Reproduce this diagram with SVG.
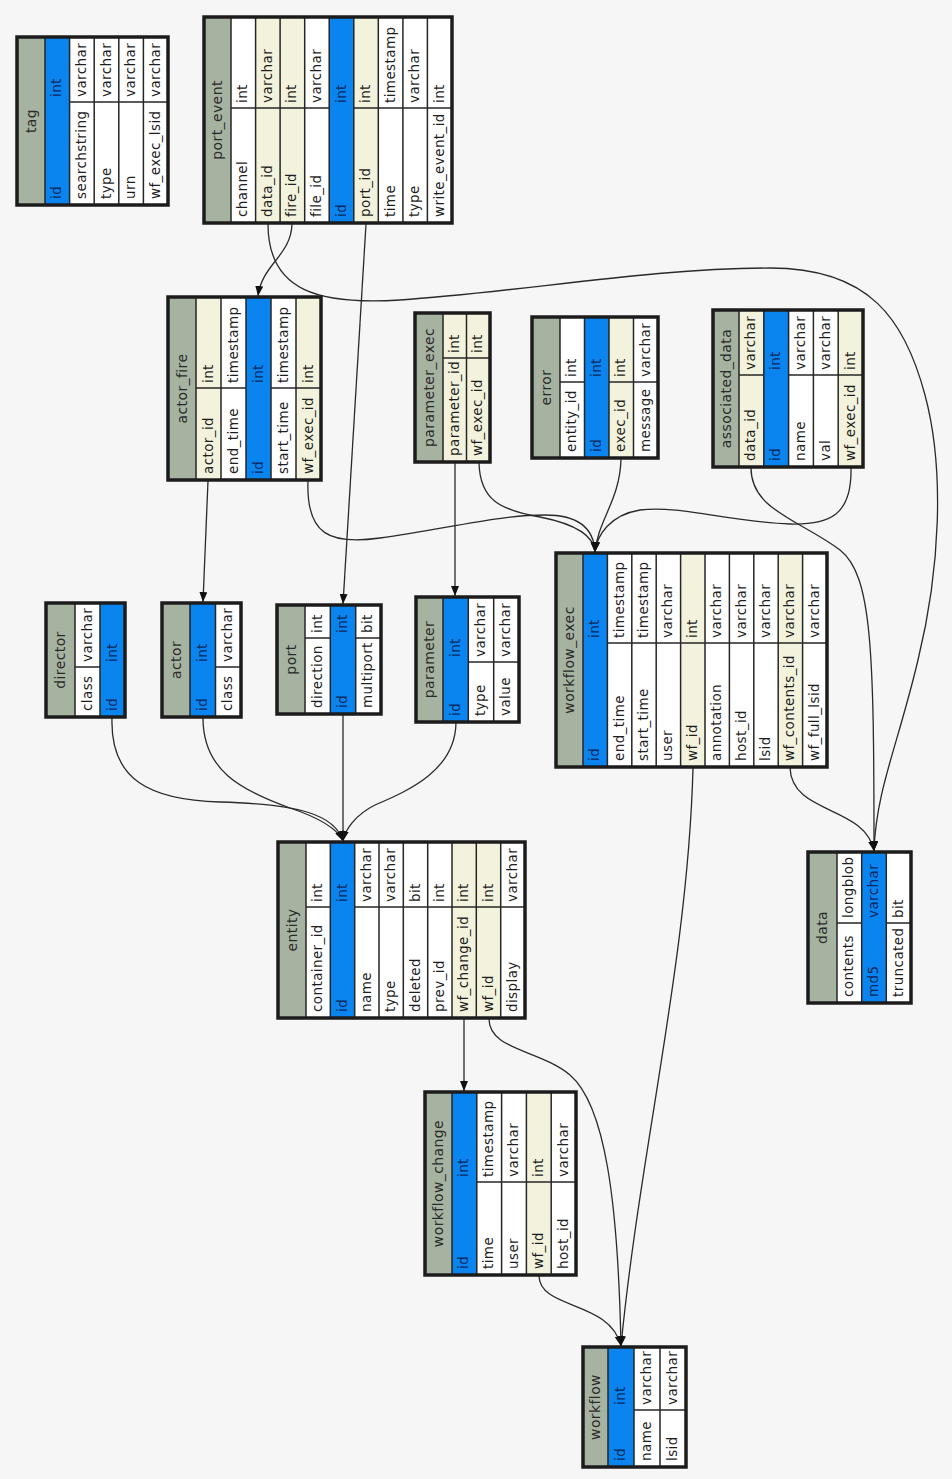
<svg xmlns="http://www.w3.org/2000/svg" width="952" height="1479" viewBox="0 0 952 1479">
<style>
  .bg{fill:#f6f6f6}
  .hdr{fill:#a7b3a1}
  .nf{fill:#ffffff}
  .fk{fill:#f3f3dd}
  .pk{fill:#0a84ee}
  .dv{stroke:#262626;stroke-width:1.5}
  .sep{stroke:#262626;stroke-width:1.5;fill:none}
  .frame{fill:none;stroke:#1c1c1c;stroke-width:3.5}
  text{font-family:"DejaVu Sans","Liberation Sans",sans-serif;font-size:13.5px;fill:#1e1e1e;letter-spacing:0.4px}
  text.p{fill:#0a2a5e}
  text.ttl{font-size:14px;fill:#2a2a2a;text-anchor:middle}
  .cn{fill:none;stroke:#2a2a2a;stroke-width:1.3;marker-end:url(#arr)}
</style>
<defs>
  <marker id="arr" markerUnits="userSpaceOnUse" markerWidth="10" markerHeight="8" refX="10" refY="4" orient="auto">
    <path d="M0,0 L10,4 L0,8 z" fill="#111"/>
  </marker>
</defs>
<rect class="bg" x="0" y="0" width="952" height="1479"/>

<!-- relationships -->
<g id="connectors">
  <path class="cn" d="M292,224 C291,256 262,264 258,296"/>
  <path class="cn" d="M268,224 C268,292 320,305 400,300 C520,292 650,268 770,268 C870,268 905,320 925,395 C945,470 940,570 918,660 C898,745 876,790 874,851"/>
  <path class="cn" d="M366,224 L343,604"/>
  <path class="cn" d="M208,481 L203,602"/>
  <path class="cn" d="M308,481 C306,535 330,545 380,538 C450,528 500,515 545,515 C580,515 594,530 595,552"/>
  <path class="cn" d="M455,463 L455,596"/>
  <path class="cn" d="M479,463 C480,500 500,510 540,517 C575,524 594,535 595,552"/>
  <path class="cn" d="M621,459 C620,500 598,520 595,552"/>
  <path class="cn" d="M851,468 C852,515 830,525 790,524 C730,522 680,505 640,510 C610,515 597,535 595,552"/>
  <path class="cn" d="M751,468 C751,510 800,520 840,550 C872,575 874,650 874,851"/>
  <path class="cn" d="M790,768 C792,815 865,805 874,851"/>
  <path class="cn" d="M693,768 C688,960 640,1150 621,1346"/>
  <path class="cn" d="M112,718 C110,780 150,800 220,802 C300,804 335,815 343,841"/>
  <path class="cn" d="M203,718 C203,770 240,790 290,808 C320,818 338,830 343,841"/>
  <path class="cn" d="M343,715 L343,841"/>
  <path class="cn" d="M456,723 C455,770 410,790 375,805 C355,815 345,830 343,841"/>
  <path class="cn" d="M464,1019 L464,1091"/>
  <path class="cn" d="M489,1019 C489,1050 540,1050 570,1075 C605,1105 618,1200 621,1346"/>
  <path class="cn" d="M539,1276 C540,1310 610,1300 621,1346"/>
</g>

<g id="tag">
  <rect class="hdr" x="17" y="37" width="28" height="168"/>
  <rect class="nf" x="45" y="37" width="123" height="168"/>
  <line class="dv" x1="45" y1="102" x2="168" y2="102"/>
  <rect class="pk" x="45" y="37" width="24.6" height="168"/>
  <path class="sep" d="M45,37V205M69.6,37V205M94.2,37V205M118.8,37V205M143.4,37V205"/>
  <rect class="frame" x="17" y="37" width="151" height="168"/>
  <text class="ttl" transform="translate(35.5,121) rotate(-90)">tag</text>
  <text class="p" transform="translate(61.3,199) rotate(-90)">id</text>
  <text transform="translate(85.9,199) rotate(-90)">searchstring</text>
  <text transform="translate(110.5,199) rotate(-90)">type</text>
  <text transform="translate(135.1,199) rotate(-90)">urn</text>
  <text transform="translate(159.7,199) rotate(-90)">wf_exec_lsid</text>
  <text class="p" transform="translate(61.3,97) rotate(-90)">int</text>
  <text transform="translate(85.9,97) rotate(-90)">varchar</text>
  <text transform="translate(110.5,97) rotate(-90)">varchar</text>
  <text transform="translate(135.1,97) rotate(-90)">varchar</text>
  <text transform="translate(159.7,97) rotate(-90)">varchar</text>
</g>

<g id="port_event">
  <rect class="hdr" x="204" y="17" width="27" height="206"/>
  <rect class="nf" x="231" y="17" width="221" height="206"/>
  <rect class="fk" x="255.6" y="17" width="49.1" height="206"/>
  <rect class="fk" x="353.8" y="17" width="24.5" height="206"/>
  <line class="dv" x1="231" y1="108" x2="452" y2="108"/>
  <rect class="pk" x="329.2" y="17" width="24.6" height="206"/>
  <path class="sep" d="M231,17V223M255.6,17V223M280.1,17V223M304.7,17V223M329.2,17V223M353.8,17V223M378.3,17V223M402.9,17V223M427.4,17V223"/>
  <rect class="frame" x="204" y="17" width="248" height="206"/>
  <text class="ttl" transform="translate(222,120) rotate(-90)">port_event</text>
  <text transform="translate(247.3,217) rotate(-90)">channel</text>
  <text transform="translate(271.8,217) rotate(-90)">data_id</text>
  <text transform="translate(296.4,217) rotate(-90)">fire_id</text>
  <text transform="translate(321,217) rotate(-90)">file_id</text>
  <text class="p" transform="translate(345.5,217) rotate(-90)">id</text>
  <text transform="translate(370,217) rotate(-90)">port_id</text>
  <text transform="translate(394.6,217) rotate(-90)">time</text>
  <text transform="translate(419.2,217) rotate(-90)">type</text>
  <text transform="translate(443.7,217) rotate(-90)">write_event_id</text>
  <text transform="translate(247.3,103) rotate(-90)">int</text>
  <text transform="translate(271.8,103) rotate(-90)">varchar</text>
  <text transform="translate(296.4,103) rotate(-90)">int</text>
  <text transform="translate(321,103) rotate(-90)">varchar</text>
  <text class="p" transform="translate(345.5,103) rotate(-90)">int</text>
  <text transform="translate(370,103) rotate(-90)">int</text>
  <text transform="translate(394.6,103) rotate(-90)">timestamp</text>
  <text transform="translate(419.2,103) rotate(-90)">varchar</text>
  <text transform="translate(443.7,103) rotate(-90)">int</text>
</g>

<g id="actor_fire">
  <rect class="hdr" x="168" y="297" width="28" height="183"/>
  <rect class="nf" x="196" y="297" width="125" height="183"/>
  <rect class="fk" x="196" y="297" width="25" height="183"/>
  <rect class="fk" x="296" y="297" width="25" height="183"/>
  <line class="dv" x1="196" y1="388" x2="321" y2="388"/>
  <rect class="pk" x="246" y="297" width="25" height="183"/>
  <path class="sep" d="M196,297V480M221,297V480M246,297V480M271,297V480M296,297V480"/>
  <rect class="frame" x="168" y="297" width="153" height="183"/>
  <text class="ttl" transform="translate(186.5,388.5) rotate(-90)">actor_fire</text>
  <text transform="translate(212.5,474) rotate(-90)">actor_id</text>
  <text transform="translate(237.5,474) rotate(-90)">end_time</text>
  <text class="p" transform="translate(262.5,474) rotate(-90)">id</text>
  <text transform="translate(287.5,474) rotate(-90)">start_time</text>
  <text transform="translate(312.5,474) rotate(-90)">wf_exec_id</text>
  <text transform="translate(212.5,383) rotate(-90)">int</text>
  <text transform="translate(237.5,383) rotate(-90)">timestamp</text>
  <text class="p" transform="translate(262.5,383) rotate(-90)">int</text>
  <text transform="translate(287.5,383) rotate(-90)">timestamp</text>
  <text transform="translate(312.5,383) rotate(-90)">int</text>
</g>

<g id="parameter_exec">
  <rect class="hdr" x="415" y="313" width="28" height="149"/>
  <rect class="fk" x="443" y="313" width="47" height="149"/>
  <line class="dv" x1="443" y1="358" x2="490" y2="358"/>
  <path class="sep" d="M443,313V462M466.5,313V462"/>
  <rect class="frame" x="415" y="313" width="75" height="149"/>
  <text class="ttl" transform="translate(433.5,387.5) rotate(-90)">parameter_exec</text>
  <text transform="translate(458.8,456) rotate(-90)">parameter_id</text>
  <text transform="translate(482.3,456) rotate(-90)">wf_exec_id</text>
  <text transform="translate(458.8,353) rotate(-90)">int</text>
  <text transform="translate(482.3,353) rotate(-90)">int</text>
</g>

<g id="error">
  <rect class="hdr" x="532" y="317" width="28" height="141"/>
  <rect class="nf" x="560" y="317" width="98" height="141"/>
  <rect class="fk" x="609" y="317" width="24.5" height="141"/>
  <line class="dv" x1="560" y1="382" x2="658" y2="382"/>
  <rect class="pk" x="584.5" y="317" width="24.5" height="141"/>
  <path class="sep" d="M560,317V458M584.5,317V458M609,317V458M633.5,317V458"/>
  <rect class="frame" x="532" y="317" width="126" height="141"/>
  <text class="ttl" transform="translate(550.5,387.5) rotate(-90)">error</text>
  <text transform="translate(576.3,452) rotate(-90)">entity_id</text>
  <text class="p" transform="translate(600.8,452) rotate(-90)">id</text>
  <text transform="translate(625.3,452) rotate(-90)">exec_id</text>
  <text transform="translate(649.8,452) rotate(-90)">message</text>
  <text transform="translate(576.3,377) rotate(-90)">int</text>
  <text class="p" transform="translate(600.8,377) rotate(-90)">int</text>
  <text transform="translate(625.3,377) rotate(-90)">int</text>
  <text transform="translate(649.8,377) rotate(-90)">varchar</text>
</g>

<g id="associated_data">
  <rect class="hdr" x="713" y="310" width="26" height="157"/>
  <rect class="nf" x="739" y="310" width="124" height="157"/>
  <rect class="fk" x="739" y="310" width="24.8" height="157"/>
  <rect class="fk" x="838.2" y="310" width="24.8" height="157"/>
  <line class="dv" x1="739" y1="375" x2="863" y2="375"/>
  <rect class="pk" x="763.8" y="310" width="24.8" height="157"/>
  <path class="sep" d="M739,310V467M763.8,310V467M788.6,310V467M813.4,310V467M838.2,310V467"/>
  <rect class="frame" x="713" y="310" width="150" height="157"/>
  <text class="ttl" transform="translate(730.5,388.5) rotate(-90)">associated_data</text>
  <text transform="translate(755.4,461) rotate(-90)">data_id</text>
  <text class="p" transform="translate(780.2,461) rotate(-90)">id</text>
  <text transform="translate(805,461) rotate(-90)">name</text>
  <text transform="translate(829.8,461) rotate(-90)">val</text>
  <text transform="translate(854.6,461) rotate(-90)">wf_exec_id</text>
  <text transform="translate(755.4,370) rotate(-90)">varchar</text>
  <text class="p" transform="translate(780.2,370) rotate(-90)">int</text>
  <text transform="translate(805,370) rotate(-90)">varchar</text>
  <text transform="translate(829.8,370) rotate(-90)">varchar</text>
  <text transform="translate(854.6,370) rotate(-90)">int</text>
</g>

<g id="director">
  <rect class="hdr" x="46" y="603" width="29" height="114"/>
  <rect class="nf" x="75" y="603" width="50" height="114"/>
  <line class="dv" x1="75" y1="667" x2="125" y2="667"/>
  <rect class="pk" x="100" y="603" width="25" height="114"/>
  <path class="sep" d="M75,603V717M100,603V717"/>
  <rect class="frame" x="46" y="603" width="79" height="114"/>
  <text class="ttl" transform="translate(65,660) rotate(-90)">director</text>
  <text transform="translate(91.5,711) rotate(-90)">class</text>
  <text class="p" transform="translate(116.5,711) rotate(-90)">id</text>
  <text transform="translate(91.5,662) rotate(-90)">varchar</text>
  <text class="p" transform="translate(116.5,662) rotate(-90)">int</text>
</g>

<g id="actor">
  <rect class="hdr" x="162" y="603" width="28" height="114"/>
  <rect class="nf" x="190" y="603" width="51" height="114"/>
  <line class="dv" x1="190" y1="667" x2="241" y2="667"/>
  <rect class="pk" x="190" y="603" width="25.5" height="114"/>
  <path class="sep" d="M190,603V717M215.5,603V717"/>
  <rect class="frame" x="162" y="603" width="79" height="114"/>
  <text class="ttl" transform="translate(180.5,660) rotate(-90)">actor</text>
  <text class="p" transform="translate(206.8,711) rotate(-90)">id</text>
  <text transform="translate(232.3,711) rotate(-90)">class</text>
  <text class="p" transform="translate(206.8,662) rotate(-90)">int</text>
  <text transform="translate(232.3,662) rotate(-90)">varchar</text>
</g>

<g id="port">
  <rect class="hdr" x="277" y="605" width="28" height="109"/>
  <rect class="nf" x="305" y="605" width="76" height="109"/>
  <line class="dv" x1="305" y1="638" x2="381" y2="638"/>
  <rect class="pk" x="330.3" y="605" width="25.4" height="109"/>
  <path class="sep" d="M305,605V714M330.3,605V714M355.7,605V714"/>
  <rect class="frame" x="277" y="605" width="104" height="109"/>
  <text class="ttl" transform="translate(295.5,659.5) rotate(-90)">port</text>
  <text transform="translate(321.7,708) rotate(-90)">direction</text>
  <text class="p" transform="translate(347,708) rotate(-90)">id</text>
  <text transform="translate(372.3,708) rotate(-90)">multiport</text>
  <text transform="translate(321.7,633) rotate(-90)">int</text>
  <text class="p" transform="translate(347,633) rotate(-90)">int</text>
  <text transform="translate(372.3,633) rotate(-90)">bit</text>
</g>

<g id="parameter">
  <rect class="hdr" x="416" y="597" width="27" height="125"/>
  <rect class="nf" x="443" y="597" width="76" height="125"/>
  <line class="dv" x1="443" y1="662" x2="519" y2="662"/>
  <rect class="pk" x="443" y="597" width="25.3" height="125"/>
  <path class="sep" d="M443,597V722M468.3,597V722M493.7,597V722"/>
  <rect class="frame" x="416" y="597" width="103" height="125"/>
  <text class="ttl" transform="translate(434,659.5) rotate(-90)">parameter</text>
  <text class="p" transform="translate(459.7,716) rotate(-90)">id</text>
  <text transform="translate(485,716) rotate(-90)">type</text>
  <text transform="translate(510.3,716) rotate(-90)">value</text>
  <text class="p" transform="translate(459.7,657) rotate(-90)">int</text>
  <text transform="translate(485,657) rotate(-90)">varchar</text>
  <text transform="translate(510.3,657) rotate(-90)">varchar</text>
</g>

<g id="workflow_exec">
  <rect class="hdr" x="556" y="553" width="27" height="214"/>
  <rect class="nf" x="583" y="553" width="244" height="214"/>
  <rect class="fk" x="680.6" y="553" width="24.4" height="214"/>
  <rect class="fk" x="778.2" y="553" width="24.4" height="214"/>
  <line class="dv" x1="583" y1="643" x2="827" y2="643"/>
  <rect class="pk" x="583" y="553" width="24.4" height="214"/>
  <path class="sep" d="M583,553V767M607.4,553V767M631.8,553V767M656.2,553V767M680.6,553V767M705,553V767M729.4,553V767M753.8,553V767M778.2,553V767M802.6,553V767"/>
  <rect class="frame" x="556" y="553" width="271" height="214"/>
  <text class="ttl" transform="translate(574,660) rotate(-90)">workflow_exec</text>
  <text class="p" transform="translate(599.2,761) rotate(-90)">id</text>
  <text transform="translate(623.6,761) rotate(-90)">end_time</text>
  <text transform="translate(648,761) rotate(-90)">start_time</text>
  <text transform="translate(672.4,761) rotate(-90)">user</text>
  <text transform="translate(696.8,761) rotate(-90)">wf_id</text>
  <text transform="translate(721.2,761) rotate(-90)">annotation</text>
  <text transform="translate(745.6,761) rotate(-90)">host_id</text>
  <text transform="translate(770,761) rotate(-90)">lsid</text>
  <text transform="translate(794.4,761) rotate(-90)">wf_contents_id</text>
  <text transform="translate(818.8,761) rotate(-90)">wf_full_lsid</text>
  <text class="p" transform="translate(599.2,638) rotate(-90)">int</text>
  <text transform="translate(623.6,638) rotate(-90)">timestamp</text>
  <text transform="translate(648,638) rotate(-90)">timestamp</text>
  <text transform="translate(672.4,638) rotate(-90)">varchar</text>
  <text transform="translate(696.8,638) rotate(-90)">int</text>
  <text transform="translate(721.2,638) rotate(-90)">varchar</text>
  <text transform="translate(745.6,638) rotate(-90)">varchar</text>
  <text transform="translate(770,638) rotate(-90)">varchar</text>
  <text transform="translate(794.4,638) rotate(-90)">varchar</text>
  <text transform="translate(818.8,638) rotate(-90)">varchar</text>
</g>

<g id="entity">
  <rect class="hdr" x="278" y="842" width="28" height="176"/>
  <rect class="nf" x="306" y="842" width="219" height="176"/>
  <rect class="fk" x="452" y="842" width="48.7" height="176"/>
  <line class="dv" x1="306" y1="907" x2="525" y2="907"/>
  <rect class="pk" x="330.3" y="842" width="24.4" height="176"/>
  <path class="sep" d="M306,842V1018M330.3,842V1018M354.7,842V1018M379,842V1018M403.3,842V1018M427.7,842V1018M452,842V1018M476.3,842V1018M500.7,842V1018"/>
  <rect class="frame" x="278" y="842" width="247" height="176"/>
  <text class="ttl" transform="translate(296.5,930) rotate(-90)">entity</text>
  <text transform="translate(322.2,1012) rotate(-90)">container_id</text>
  <text class="p" transform="translate(346.5,1012) rotate(-90)">id</text>
  <text transform="translate(370.8,1012) rotate(-90)">name</text>
  <text transform="translate(395.2,1012) rotate(-90)">type</text>
  <text transform="translate(419.5,1012) rotate(-90)">deleted</text>
  <text transform="translate(443.8,1012) rotate(-90)">prev_id</text>
  <text transform="translate(468.2,1012) rotate(-90)">wf_change_id</text>
  <text transform="translate(492.5,1012) rotate(-90)">wf_id</text>
  <text transform="translate(516.8,1012) rotate(-90)">display</text>
  <text transform="translate(322.2,902) rotate(-90)">int</text>
  <text class="p" transform="translate(346.5,902) rotate(-90)">int</text>
  <text transform="translate(370.8,902) rotate(-90)">varchar</text>
  <text transform="translate(395.2,902) rotate(-90)">varchar</text>
  <text transform="translate(419.5,902) rotate(-90)">bit</text>
  <text transform="translate(443.8,902) rotate(-90)">int</text>
  <text transform="translate(468.2,902) rotate(-90)">int</text>
  <text transform="translate(492.5,902) rotate(-90)">int</text>
  <text transform="translate(516.8,902) rotate(-90)">varchar</text>
</g>

<g id="data">
  <rect class="hdr" x="808" y="852" width="29" height="151"/>
  <rect class="nf" x="837" y="852" width="74" height="151"/>
  <line class="dv" x1="837" y1="923" x2="911" y2="923"/>
  <rect class="pk" x="861.7" y="852" width="24.6" height="151"/>
  <path class="sep" d="M837,852V1003M861.7,852V1003M886.3,852V1003"/>
  <rect class="frame" x="808" y="852" width="103" height="151"/>
  <text class="ttl" transform="translate(827,927.5) rotate(-90)">data</text>
  <text transform="translate(853.3,997) rotate(-90)">contents</text>
  <text class="p" transform="translate(878,997) rotate(-90)">md5</text>
  <text transform="translate(902.7,997) rotate(-90)">truncated</text>
  <text transform="translate(853.3,918) rotate(-90)">longblob</text>
  <text class="p" transform="translate(878,918) rotate(-90)">varchar</text>
  <text transform="translate(902.7,918) rotate(-90)">bit</text>
</g>

<g id="workflow_change">
  <rect class="hdr" x="425" y="1092" width="27" height="183"/>
  <rect class="nf" x="452" y="1092" width="124" height="183"/>
  <rect class="fk" x="526.4" y="1092" width="24.8" height="183"/>
  <line class="dv" x1="452" y1="1182" x2="576" y2="1182"/>
  <rect class="pk" x="452" y="1092" width="24.8" height="183"/>
  <path class="sep" d="M452,1092V1275M476.8,1092V1275M501.6,1092V1275M526.4,1092V1275M551.2,1092V1275"/>
  <rect class="frame" x="425" y="1092" width="151" height="183"/>
  <text class="ttl" transform="translate(443,1183.5) rotate(-90)">workflow_change</text>
  <text class="p" transform="translate(468.4,1269) rotate(-90)">id</text>
  <text transform="translate(493.2,1269) rotate(-90)">time</text>
  <text transform="translate(518,1269) rotate(-90)">user</text>
  <text transform="translate(542.8,1269) rotate(-90)">wf_id</text>
  <text transform="translate(567.6,1269) rotate(-90)">host_id</text>
  <text class="p" transform="translate(468.4,1177) rotate(-90)">int</text>
  <text transform="translate(493.2,1177) rotate(-90)">timestamp</text>
  <text transform="translate(518,1177) rotate(-90)">varchar</text>
  <text transform="translate(542.8,1177) rotate(-90)">int</text>
  <text transform="translate(567.6,1177) rotate(-90)">varchar</text>
</g>

<g id="workflow">
  <rect class="hdr" x="583" y="1347" width="25" height="120"/>
  <rect class="nf" x="608" y="1347" width="78" height="120"/>
  <line class="dv" x1="608" y1="1410" x2="686" y2="1410"/>
  <rect class="pk" x="608" y="1347" width="26" height="120"/>
  <path class="sep" d="M608,1347V1467M634,1347V1467M660,1347V1467"/>
  <rect class="frame" x="583" y="1347" width="103" height="120"/>
  <text class="ttl" transform="translate(600,1407) rotate(-90)">workflow</text>
  <text class="p" transform="translate(625,1461) rotate(-90)">id</text>
  <text transform="translate(651,1461) rotate(-90)">name</text>
  <text transform="translate(677,1461) rotate(-90)">lsid</text>
  <text class="p" transform="translate(625,1405) rotate(-90)">int</text>
  <text transform="translate(651,1405) rotate(-90)">varchar</text>
  <text transform="translate(677,1405) rotate(-90)">varchar</text>
</g>
</svg>
